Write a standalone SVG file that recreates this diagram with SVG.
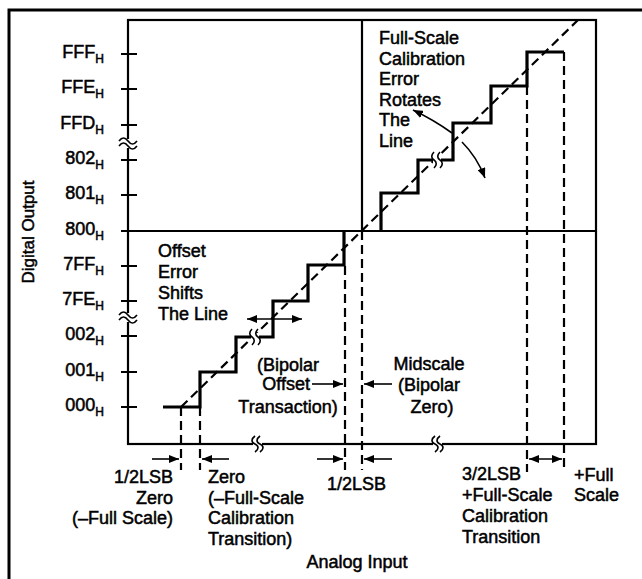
<svg xmlns="http://www.w3.org/2000/svg" width="642" height="579" viewBox="0 0 642 579">
<defs>
<marker id="ah" viewBox="0 0 10 8" refX="10" refY="4" markerWidth="10" markerHeight="8" markerUnits="userSpaceOnUse" orient="auto">
<path d="M0,0 L10,4 L0,8 Z" fill="#000"/>
</marker>
<marker id="ahs" viewBox="0 0 10 8" refX="0" refY="4" markerWidth="10" markerHeight="8" markerUnits="userSpaceOnUse" orient="auto">
<path d="M10,0 L0,4 L10,8 Z" fill="#000"/>
</marker>
</defs>
<style>
text{font-family:"Liberation Sans",Arial,Helvetica,sans-serif;font-size:18px;fill:#000;stroke:#000;stroke-width:0.5}
.sub{font-size:12px}
.frame{fill:none;stroke:#000;stroke-width:3}
.axis{fill:none;stroke:#000;stroke-width:2.2}
.tick{stroke:#000;stroke-width:2}
.stair{fill:none;stroke:#000;stroke-width:3.2;stroke-linejoin:miter}
.dash{fill:none;stroke:#000;stroke-width:2.2;stroke-dasharray:9,5}
.arr{fill:none;stroke:#000;stroke-width:1.6}
.sq{fill:none;stroke:#000;stroke-width:1.6}
.gap{fill:#fff;stroke:none}
</style>
<rect width="642" height="579" fill="#fff"/>
<g id="frame">
<path class="frame" d="M9,579 V10 H642"/>
</g>
<g id="plot">
<rect class="axis" x="128" y="20" width="468" height="424"/>
<line class="axis" x1="121" y1="231" x2="596" y2="231"/>
<line class="axis" x1="362" y1="20" x2="362" y2="231"/>
<g id="ticks">
<line class="tick" x1="121" y1="54" x2="137" y2="54"/>
<line class="tick" x1="121" y1="89" x2="137" y2="89"/>
<line class="tick" x1="121" y1="125" x2="137" y2="125"/>
<line class="tick" x1="121" y1="160" x2="137" y2="160"/>
<line class="tick" x1="121" y1="195" x2="137" y2="195"/>
<line class="tick" x1="121" y1="266" x2="137" y2="266"/>
<line class="tick" x1="121" y1="301" x2="137" y2="301"/>
<line class="tick" x1="121" y1="336" x2="137" y2="336"/>
<line class="tick" x1="121" y1="372" x2="137" y2="372"/>
<line class="tick" x1="121" y1="407" x2="137" y2="407"/>
</g>
<g id="breaks">
<rect class="gap" x="124" y="139" width="9" height="9"/>
<path class="sq" d="M119,141 c3,-4 6,-4 9,0 s6,4 9,0"/>
<path class="sq" d="M119,146 c3,-4 6,-4 9,0 s6,4 9,0"/>
<rect class="gap" x="124" y="313" width="9" height="9"/>
<path class="sq" d="M119,315 c3,-4 6,-4 9,0 s6,4 9,0"/>
<path class="sq" d="M119,320 c3,-4 6,-4 9,0 s6,4 9,0"/>
<rect class="gap" x="253" y="440" width="9" height="9"/>
<path class="sq" d="M255,436 c-4,3 -4,6 0,8 s4,5 0,8"/>
<path class="sq" d="M260,436 c-4,3 -4,6 0,8 s4,5 0,8"/>
<rect class="gap" x="433" y="440" width="9" height="9"/>
<path class="sq" d="M435,436 c-4,3 -4,6 0,8 s4,5 0,8"/>
<path class="sq" d="M440,436 c-4,3 -4,6 0,8 s4,5 0,8"/>
</g>
</g>
<g id="ideal-line">
<line class="dash" x1="181" y1="407" x2="578" y2="20"/>
</g>
<g id="staircase">
<path class="stair" d="M163,407 H200 V372 H236 V337 H273 V301 H308 V265 H344 V231"/>
<path class="stair" d="M381,231 V193 H418 V160 H453 V123 H491 V86 H527 V52 H564"/>
<rect class="gap" x="251" y="333" width="8" height="8"/>
<path class="sq" d="M252,329 c-3,3 -3,6 0,8 s3,5 0,8"/>
<path class="sq" d="M258,329 c-3,3 -3,6 0,8 s3,5 0,8"/>
<rect class="gap" x="433" y="156" width="8" height="8"/>
<path class="sq" d="M434,152 c-3,3 -3,6 0,8 s3,5 0,8"/>
<path class="sq" d="M440,152 c-3,3 -3,6 0,8 s3,5 0,8"/>
</g>
<g id="connectors">
<line class="dash" x1="181" y1="407" x2="181" y2="470"/>
<line class="dash" x1="200" y1="407" x2="200" y2="470"/>
<line class="dash" x1="345" y1="266" x2="345" y2="470"/>
<line class="dash" x1="362" y1="231" x2="362" y2="470"/>
<line class="dash" x1="527" y1="86" x2="527" y2="472"/>
<line class="dash" x1="564" y1="52" x2="564" y2="472"/>
<line class="arr" x1="152" y1="459" x2="179" y2="459" marker-end="url(#ah)"/>
<line class="arr" x1="229" y1="459" x2="202" y2="459" marker-end="url(#ah)"/>
<line class="arr" x1="317" y1="459" x2="343" y2="459" marker-end="url(#ah)"/>
<line class="arr" x1="392" y1="459" x2="364" y2="459" marker-end="url(#ah)"/>
<line class="arr" x1="529" y1="459" x2="562" y2="459" marker-start="url(#ahs)" marker-end="url(#ah)"/>
<line class="arr" x1="312" y1="384" x2="343" y2="384" marker-end="url(#ah)"/>
<line class="arr" x1="392" y1="384" x2="364" y2="384" marker-end="url(#ah)"/>
<line class="arr" x1="247" y1="319" x2="302" y2="319" marker-start="url(#ahs)" marker-end="url(#ah)"/>
<path class="arr" d="M452,133 Q434,120 413,110" marker-end="url(#ah)"/>
<path class="arr" d="M462,142 Q477,157 485,178" marker-end="url(#ah)"/>
</g>
<g id="y-labels" text-anchor="end">
<text x="104" y="58">FFF<tspan class="sub" dy="5">H</tspan></text>
<text x="104" y="93">FFE<tspan class="sub" dy="5">H</tspan></text>
<text x="104" y="129">FFD<tspan class="sub" dy="5">H</tspan></text>
<text x="104" y="164">802<tspan class="sub" dy="5">H</tspan></text>
<text x="104" y="199">801<tspan class="sub" dy="5">H</tspan></text>
<text x="104" y="235">800<tspan class="sub" dy="5">H</tspan></text>
<text x="104" y="270">7FF<tspan class="sub" dy="5">H</tspan></text>
<text x="104" y="305">7FE<tspan class="sub" dy="5">H</tspan></text>
<text x="104" y="340">002<tspan class="sub" dy="5">H</tspan></text>
<text x="104" y="376">001<tspan class="sub" dy="5">H</tspan></text>
<text x="104" y="411">000<tspan class="sub" dy="5">H</tspan></text>
</g>
<g id="axis-titles">
<text x="0" y="0" text-anchor="middle" transform="translate(34,232) rotate(-90)" style="font-size:17px">Digital Output</text>
<text x="357" y="568" text-anchor="middle">Analog Input</text>
</g>
<g id="label-fullscale-error">
<text x="379" y="44">Full-Scale</text>
<text x="379" y="65">Calibration</text>
<text x="379" y="85">Error</text>
<text x="379" y="106">Rotates</text>
<text x="379" y="126">The</text>
<text x="379" y="147">Line</text>
</g>
<g id="label-offset-error">
<text x="158" y="257">Offset</text>
<text x="158" y="278">Error</text>
<text x="158" y="299">Shifts</text>
<text x="158" y="320">The Line</text>
</g>
<g id="label-bipolar-offset" text-anchor="middle">
<text x="288" y="371">(Bipolar</text>
<text x="310" y="390" text-anchor="end">Offset</text>
<text x="288" y="413">Transaction)</text>
</g>
<g id="label-midscale" text-anchor="middle">
<text x="429" y="370">Midscale</text>
<text x="429" y="391">(Bipolar</text>
<text x="432" y="413">Zero)</text>
</g>
<g id="label-zero" text-anchor="end">
<text x="173" y="483">1/2LSB</text>
<text x="173" y="504">Zero</text>
<text x="173" y="524">(–Full Scale)</text>
</g>
<g id="label-zero-transition">
<text x="208" y="483">Zero</text>
<text x="208" y="504">(–Full-Scale</text>
<text x="208" y="524">Calibration</text>
<text x="208" y="545">Transition)</text>
</g>
<g id="label-halflsb">
<text x="327" y="490">1/2LSB</text>
</g>
<g id="label-fs-transition">
<text x="462" y="480">3/2LSB</text>
<text x="462" y="501">+Full-Scale</text>
<text x="462" y="522">Calibration</text>
<text x="462" y="543">Transition</text>
</g>
<g id="label-plus-fullscale">
<text x="574" y="481">+Full</text>
<text x="574" y="501">Scale</text>
</g>
</svg>
